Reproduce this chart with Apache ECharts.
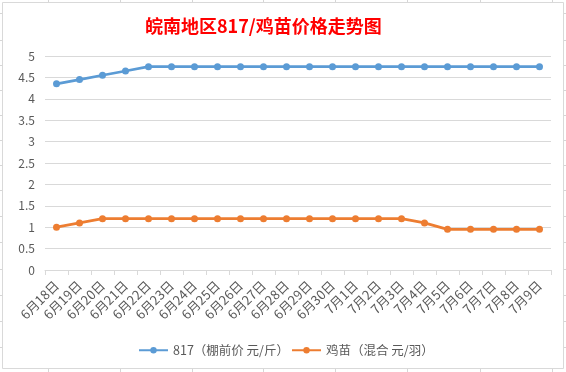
<!DOCTYPE html>
<html><head><meta charset="utf-8">
<script src="https://cdn.jsdelivr.net/npm/echarts@6/dist/echarts.min.js"></script>
<style>html,body{margin:0;padding:0;background:#fff}#c{width:566px;height:372px}</style>
</head><body><div id="c"></div>
<script>
const categories = ['6月18日','6月19日','6月20日','6月21日','6月22日','6月23日','6月24日','6月25日','6月26日','6月27日','6月28日','6月29日','6月30日','7月1日','7月2日','7月3日','7月4日','7月5日','7月6日','7月7日','7月8日','7月9日'];
const price817 = [4.35,4.45,4.55,4.65,4.75,4.75,4.75,4.75,4.75,4.75,4.75,4.75,4.75,4.75,4.75,4.75,4.75,4.75,4.75,4.75,4.75,4.75];
const chickPrice = [1.0,1.1,1.2,1.2,1.2,1.2,1.2,1.2,1.2,1.2,1.2,1.2,1.2,1.2,1.2,1.2,1.1,0.95,0.95,0.95,0.95,0.95];
const seriesNames = ['817（棚前价 元/斤）','鸡苗（混合 元/羽）'];
const titleText = '皖南地区817/鸡苗价格走势图';

const font = '"Noto Sans CJK SC", "Microsoft YaHei", sans-serif';
const sheetLine = '#d6d6d6';
const graphics = [{type:'rect', shape:{x:2.5,y:2.5,width:561,height:366}, style:{fill:'none', stroke:'#d9d9d9', lineWidth:1}, silent:true}];
[48,120,192,263,335,407,480,552].forEach(x=>{
  graphics.push({type:'line', shape:{x1:x+0.5,y1:0,x2:x+0.5,y2:2}, style:{stroke:sheetLine}});
  graphics.push({type:'line', shape:{x1:x+0.5,y1:369,x2:x+0.5,y2:372}, style:{stroke:sheetLine}});
});
[13,40,65,90,115,140,165,190,216,242,269,295,321,347].forEach(y=>{
  graphics.push({type:'line', shape:{x1:0,y1:y+0.5,x2:2,y2:y+0.5}, style:{stroke:sheetLine}});
  graphics.push({type:'line', shape:{x1:564,y1:y+0.5,x2:566,y2:y+0.5}, style:{stroke:sheetLine}});
});

const chart = echarts.init(document.getElementById('c'));
chart.setOption({
  animation:false,
  backgroundColor:'#fff',
  title:{text:titleText, left:140, top:12, textStyle:{color:'#ff0000', fontSize:18, fontWeight:'bold', fontFamily:font}},
  legend:{data:seriesNames, top:339, left:133, itemWidth:29, itemHeight:8, itemGap:2,
    textStyle:{color:'#595959', fontSize:12.5, fontFamily:font}},
  grid:{left:45, right:15, top:56, bottom:102, containLabel:false},
  xAxis:{type:'category', data:categories, boundaryGap:true,
    axisLine:{lineStyle:{color:'#d9d9d9'}},
    axisTick:{show:true, length:5, lineStyle:{color:'#d9d9d9'}},
    axisLabel:{rotate:45, color:'#595959', fontSize:13, fontFamily:font, margin:13, interval:0}},
  yAxis:{type:'value', min:0, max:5, interval:0.5,
    axisLine:{show:false}, axisTick:{show:false},
    splitLine:{lineStyle:{color:'#d9d9d9'}},
    axisLabel:{color:'#595959', fontSize:12, fontFamily:font, margin:10}},
  series:[
    {name:seriesNames[0], type:'line', data:price817, symbol:'circle', symbolSize:7,
     lineStyle:{width:2.75, color:'#5B9BD5'}, itemStyle:{color:'#5B9BD5'}},
    {name:seriesNames[1], type:'line', data:chickPrice, symbol:'circle', symbolSize:7,
     lineStyle:{width:2.75, color:'#ED7D31'}, itemStyle:{color:'#ED7D31'}}
  ],
  graphic:graphics
});
</script></body></html>
